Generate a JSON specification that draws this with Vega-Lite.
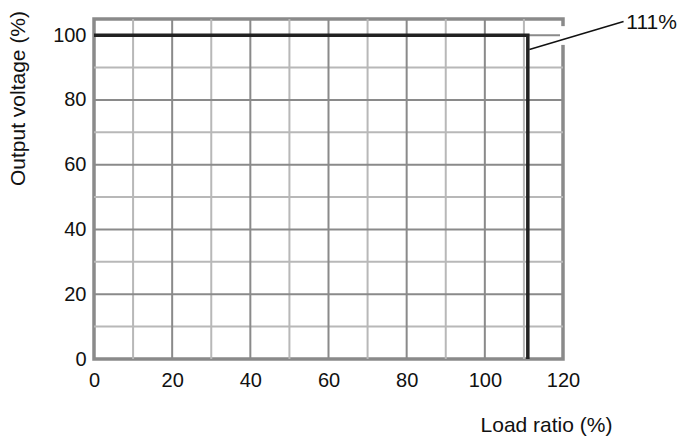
{
  "$schema": "https://vega.github.io/schema/vega-lite/v6.json",
  "width": 469,
  "height": 340,
  "autosize": {"type": "none"},
  "padding": {"left": 94, "top": 19, "right": 126, "bottom": 85},
  "background": "white",
  "config": {
    "view": {"stroke": "#8a8a8a", "strokeWidth": 3.5},
    "font": "Liberation Sans",
    "axis": {"labelFont": "Liberation Sans", "titleFont": "Liberation Sans", "labelFontSize": 20, "titleFontSize": 21, "labelColor": "#111", "titleColor": "#111", "titleFontWeight": "normal", "ticks": false, "domain": false, "grid": false, "labelFlush": false, "labelOverlap": false}
  },
  "datasets": {
    "curve": [
      {"load": 0, "voltage": 100, "step": 1},
      {"load": 111, "voltage": 100, "step": 2},
      {"load": 111, "voltage": 0, "step": 3}
    ],
    "xmajor": [{"v": 20}, {"v": 40}, {"v": 60}, {"v": 80}, {"v": 100}],
    "xminor": [{"v": 10}, {"v": 30}, {"v": 50}, {"v": 70}, {"v": 90}, {"v": 110}],
    "ymajor": [{"v": 20}, {"v": 40}, {"v": 60}, {"v": 80}, {"v": 100}],
    "yminor": [{"v": 10}, {"v": 30}, {"v": 50}, {"v": 70}, {"v": 90}],
    "gap": [{"x": 120, "y": 97.0, "y2": 102.8}],
    "leader": [{"x": 111.4, "y": 95.6, "x2": 135.5, "y2": 104.2}],
    "label": [{"x": 136.2, "y": 103.9, "text": "111%"}]
  },
  "layer": [
    {
      "data": {"name": "xminor"},
      "mark": {"type": "rule", "color": "#b8b8b8", "strokeWidth": 2},
      "encoding": {"x": {"field": "v", "type": "quantitative"}}
    },
    {
      "data": {"name": "yminor"},
      "mark": {"type": "rule", "color": "#b8b8b8", "strokeWidth": 2},
      "encoding": {"y": {"field": "v", "type": "quantitative"}}
    },
    {
      "data": {"name": "xmajor"},
      "mark": {"type": "rule", "color": "#8a8a8a", "strokeWidth": 2},
      "encoding": {"x": {"field": "v", "type": "quantitative"}}
    },
    {
      "data": {"name": "ymajor"},
      "mark": {"type": "rule", "color": "#8a8a8a", "strokeWidth": 2},
      "encoding": {"y": {"field": "v", "type": "quantitative"}}
    },
    {
      "data": {"name": "curve"},
      "mark": {"type": "line", "color": "#222", "strokeWidth": 3.5, "strokeCap": "butt", "strokeJoin": "miter", "clip": false},
      "encoding": {
        "x": {
          "field": "load", "type": "quantitative",
          "scale": {"domain": [0, 120], "nice": false, "zero": false},
          "axis": {
            "values": [0, 20, 40, 60, 80, 100, 120],
            "labelPadding": 11,
            "title": "Load ratio (%)",
            "titleAnchor": null,
            "titleX": 452,
            "titleY": 66,
            "titleAlign": "center",
            "titleBaseline": "middle"
          }
        },
        "y": {
          "field": "voltage", "type": "quantitative",
          "scale": {"domain": [0, 105], "nice": false, "zero": false},
          "axis": {
            "values": [0, 20, 40, 60, 80, 100],
            "labelPadding": 8,
            "title": "Output voltage (%)",
            "titleAnchor": null,
            "titleX": -76,
            "titleY": 79,
            "titleAngle": -90,
            "titleAlign": "center",
            "titleBaseline": "middle"
          }
        },
        "order": {"field": "step", "type": "quantitative"}
      }
    },
    {
      "data": {"name": "gap"},
      "mark": {"type": "rule", "color": "white", "strokeWidth": 6, "clip": false},
      "encoding": {
        "x": {"field": "x", "type": "quantitative"},
        "y": {"field": "y", "type": "quantitative"},
        "y2": {"field": "y2"}
      }
    },
    {
      "data": {"name": "leader"},
      "mark": {"type": "rule", "color": "#111", "strokeWidth": 1.5, "clip": false},
      "encoding": {
        "x": {"field": "x", "type": "quantitative"},
        "y": {"field": "y", "type": "quantitative"},
        "x2": {"field": "x2"},
        "y2": {"field": "y2"}
      }
    },
    {
      "data": {"name": "label"},
      "mark": {"type": "text", "align": "left", "baseline": "middle", "fontSize": 21, "color": "#111", "font": "Liberation Sans", "clip": false},
      "encoding": {
        "x": {"field": "x", "type": "quantitative"},
        "y": {"field": "y", "type": "quantitative"},
        "text": {"field": "text"}
      }
    }
  ]
}
